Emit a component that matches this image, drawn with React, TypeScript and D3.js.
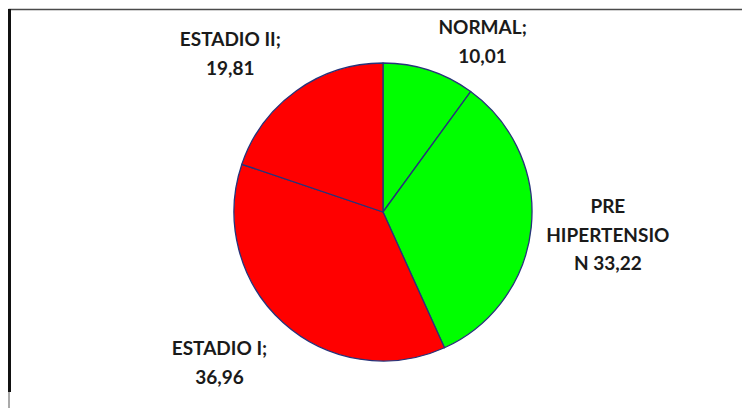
import React from "react";
import * as d3 from "d3";

// Distribución de la presión arterial (%)
const categories = ["NORMAL", "PRE HIPERTENSION", "ESTADIO I", "ESTADIO II"];
const values = [10.01, 33.22, 36.96, 19.81];
const sliceColors = ["#00FF00", "#00FF00", "#FF0000", "#FF0000"];
// Label text as it wraps inside each data label box
const labelLines = [
  ["NORMAL;", "{v}"],
  ["PRE", "HIPERTENSIO", "N {v}"],
  ["ESTADIO I;", "{v}"],
  ["ESTADIO II;", "{v}"],
];

const W = 742;
const H = 408;
const CX = 383;
const CY = 212;
const R = 149;
const LABEL_R = 225;
const LINE_H = 28.8;
const CAP_H = 13.5;
// best-fit offsets applied to each label after placing it on the label ring
const labelNudge: [number, number][] = [
  [30, 44],
  [1, 0],
  [-12.5, -16],
  [-21.5, 24.5],
];

const fmt = (v: number) => d3.format(".2f")(v).replace(".", ",");

export default function App() {
  const pie = d3
    .pie<number>()
    .sort(null)
    .value((d) => d);
  const arcs = pie(values);
  const arc = d3.arc<d3.PieArcDatum<number>>().innerRadius(0).outerRadius(R);

  return (
    <svg
      width={W}
      height={H}
      style={{ position: "absolute", left: 0, top: 0, background: "#fff" }}
    >
      {/* frame */}
      <line x1={8.5} x2={W} y1={9.5} y2={9.5} stroke="#4a4a4a" strokeWidth={1.6} />
      <line x1={9.5} x2={9.5} y1={9} y2={392} stroke="#111" strokeWidth={3} />
      <line x1={9} x2={9} y1={392} y2={H} stroke="#555" strokeWidth={1} />

      <g transform={`translate(${CX},${CY})`}>
        {arcs.map((a, i) => (
          <path
            key={categories[i]}
            d={arc(a) || ""}
            fill={sliceColors[i]}
            stroke="#27337a"
            strokeWidth={1.3}
            strokeLinejoin="round"
          />
        ))}
      </g>

      {arcs.map((a, i) => {
        const mid = (a.startAngle + a.endAngle) / 2;
        const x = CX + LABEL_R * Math.sin(mid) + labelNudge[i][0];
        const yc = CY - LABEL_R * Math.cos(mid) + labelNudge[i][1];
        const lines = labelLines[i].map((l) => l.replace("{v}", fmt(values[i])));
        const y0 = yc - ((lines.length - 1) * LINE_H) / 2 + CAP_H / 2;
        return (
          <text
            key={categories[i]}
            x={x}
            y={y0}
            textAnchor="middle"
            fontFamily="Lato, 'Open Sans', sans-serif"
            fontWeight={700}
            fontSize={19}
            fill="#1a1a1a"
          >
            {lines.map((l, j) => (
              <tspan key={j} x={x} y={y0 + j * LINE_H}>
                {l}
              </tspan>
            ))}
          </text>
        );
      })}
    </svg>
  );
}
